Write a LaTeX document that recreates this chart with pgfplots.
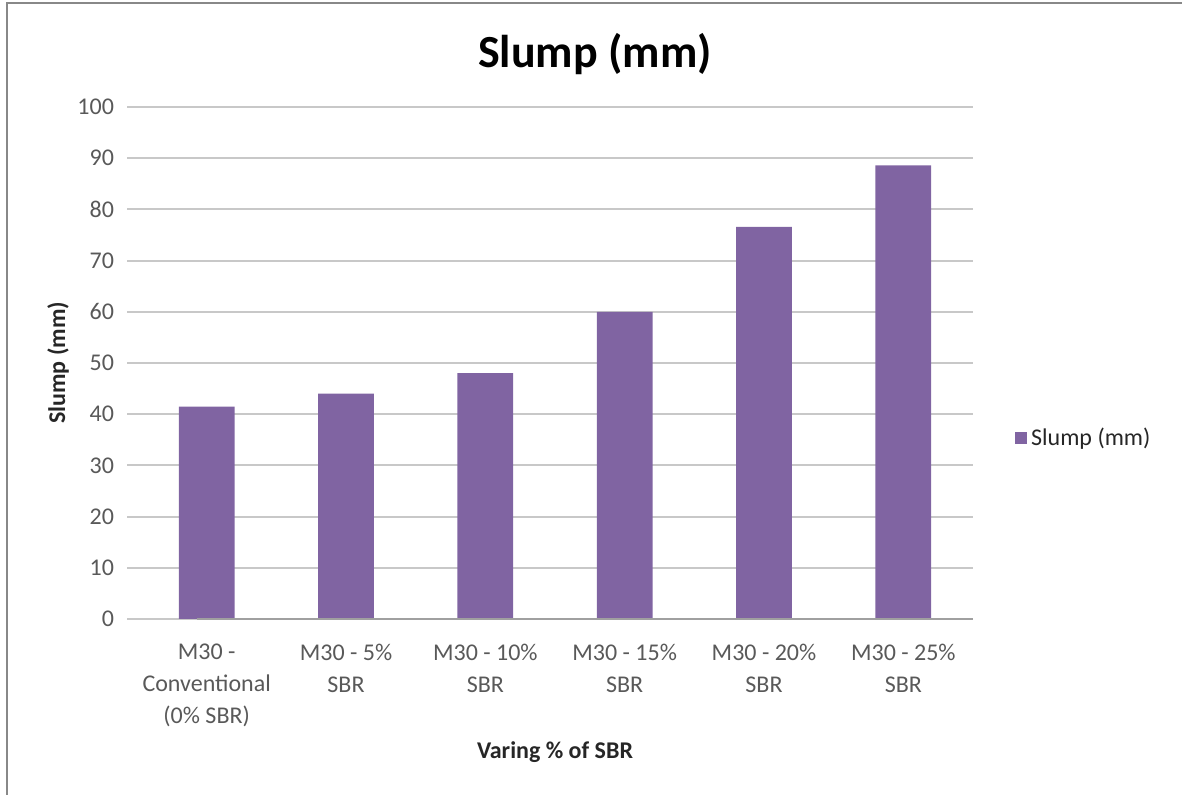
\documentclass[border=0pt]{standalone}
\usepackage{pgfplots}
\pgfplotsset{compat=1.18}
\usepackage{fontspec}
\setmainfont{Carlito}
\definecolor{barcol}{HTML}{8064A2}
\definecolor{ticktxt}{HTML}{595959}
\definecolor{gridc}{HTML}{C8C8C8}
\definecolor{axc}{HTML}{A0A0A0}
\definecolor{framec}{HTML}{888888}
\begin{document}
\begin{tikzpicture}[x=1pt,y=1pt]
\path[use as bounding box] (0,0) rectangle (591,397.5);
\draw[framec, line width=1pt] (3.5,0) -- (3.5,396) -- (591,396);
\node[font=\fontsize{23}{27}\selectfont\bfseries, anchor=base] at (297.5,363.5) {Slump (mm)};
\begin{axis}[
  at={(68.5pt,88pt)}, anchor=south west,
  scale only axis, width=418pt, height=256pt,
  xmin=-0.5, xmax=5.5, ymin=0, ymax=100,
  ytick={0,10,...,100},
  xtick={0,1,2,3,4,5},
  xticklabels={{M30 -\\Conventional\\(0\% SBR)},{M30 - 5\%\\SBR},{M30 - 10\%\\SBR},{M30 - 15\%\\SBR},{M30 - 20\%\\SBR},{M30 - 25\%\\SBR}},
  /pgf/number format/assume math mode=true,
  axis line style={draw=none},
  ymajorgrids, grid style={gridc, line width=1pt},
  major tick length=5pt,
  ytick pos=left,
  y tick style={gridc, line width=1pt},
  x tick style={draw=none},
  tick align=outside,
  yticklabel style={font=\fontsize{12}{14}\selectfont, text=ticktxt, xshift=-3pt},
  xticklabel style={font=\fontsize{12}{16}\selectfont, text=ticktxt, align=center, anchor=north, yshift=-4pt},
  ylabel={Slump (mm)},
  xlabel={Varing \% of SBR},
  every axis y label/.style={at={(axis description cs:-0.0945,0.5)}, rotate=90, anchor=center, font=\fontsize{12}{14}\selectfont\bfseries, text=black!85},
  every axis x label/.style={at={(axis description cs:0.5,-0.26)}, anchor=center, font=\fontsize{12}{14}\selectfont\bfseries, text=black!85},
  legend style={at={(1.05,0.353)}, anchor=west, draw=none, fill=none, inner sep=0pt, font=\fontsize{12}{14}\selectfont, text=black!85},
  legend image code/.code={\fill[barcol] (0pt,-3pt) rectangle (6pt,3pt);},
  clip=false,
]
\addplot[ybar, bar width=0.4, fill=barcol, draw=none] coordinates {(0,41.5) (1,44) (2,48) (3,60) (4,76.6) (5,88.6)};
\addlegendentry{Slump (mm)}
\draw[axc, line width=1pt] (axis cs:-0.5,0) ++(-5pt,0) -- (axis cs:5.5,0);
\end{axis}
\end{tikzpicture}
\end{document}
